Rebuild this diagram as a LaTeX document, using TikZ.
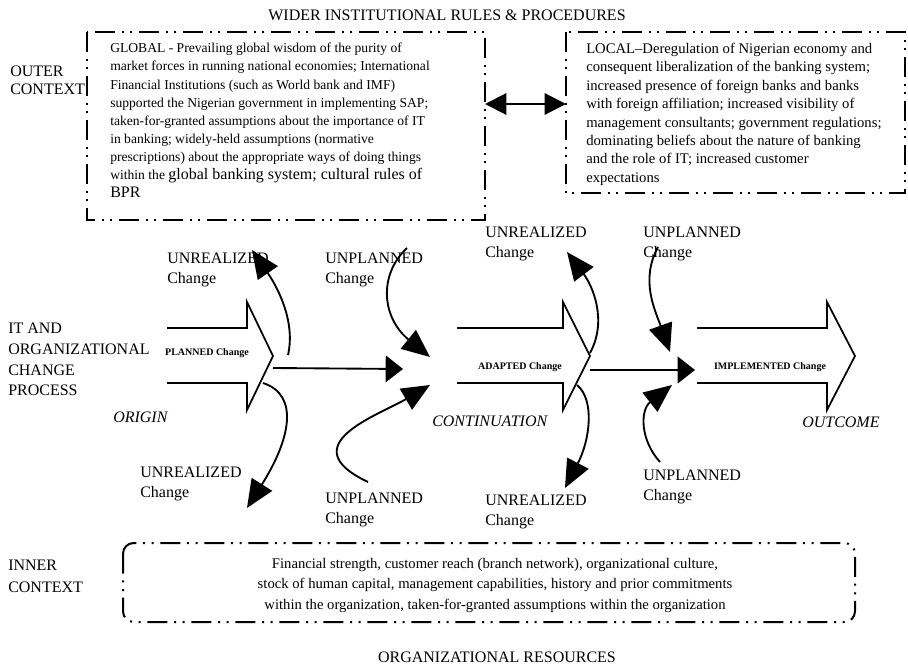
\documentclass[tikz,border=0pt]{standalone}
\usepackage{fontspec}
\setmainfont{Liberation Serif}
\usepackage{tikz}
\usetikzlibrary{arrows.meta}

\begin{document}
\begin{tikzpicture}[x=0.75pt,y=-0.75pt,
		ctxbox/.style={line width=1.5pt,dash pattern=on 15pt off 5pt on 1.5pt off 5pt on 1.5pt off 5pt},
		boxtext/.style={font=\fontsize{10.2}{13.6}\selectfont,align=left,anchor=north west,inner sep=0pt},
		lbl/.style={font=\fontsize{12}{15}\selectfont,align=left,anchor=north west,inner sep=0pt},
		stage/.style={font=\fontsize{12}{14}\selectfont\itshape,anchor=west,inner sep=0pt},
		flowlbl/.style={font=\fontsize{7.5}{8}\selectfont\bfseries,inner sep=0pt},
		blockarrow/.style={line width=1.3pt,line join=miter},
		change/.style={line width=1.4pt,-{Triangle[length=21pt,width=18pt]}},
		link/.style={line width=1.4pt,-{Triangle[length=13pt,width=20pt]}}]
	\useasboundingbox (0,0) rectangle (908,671);
	
	% outer context
	\node[lbl,anchor=north] (wider) at (447,10) {WIDER INSTITUTIONAL RULES \& PROCEDURES};
	\node[lbl,font=\fontsize{12}{13.5}\selectfont] (outer) at (10,66) {OUTER\\CONTEXT};
	
	\draw[ctxbox] (87,32) rectangle (485,220);
	\node[boxtext] (global) at (110,43) {GLOBAL - Prevailing global wisdom of the purity of\\
		market forces in running national economies; International\\
		Financial Institutions (such as World bank and IMF)\\
		supported the Nigerian government in implementing SAP;\\
		taken-for-granted assumptions about the importance of IT\\
		in banking; widely-held assumptions (normative\\
		prescriptions) about the appropriate ways of doing things\\
		within the {\fontsize{12}{13.6}\selectfont global banking system; cultural rules of}\\
		{\fontsize{12}{13.6}\selectfont BPR}};
	
	\draw[ctxbox] (566,32) rectangle (905,193);
	\node[boxtext,font=\fontsize{11}{13.8}\selectfont] (local) at (586,43) {LOCAL--Deregulation of Nigerian economy and\\
		consequent liberalization of the banking system;\\
		increased presence of foreign banks and banks\\
		with foreign affiliation; increased visibility of\\
		management consultants; government regulations;\\
		dominating beliefs about the nature of banking\\
		and the role of IT; increased customer\\
		expectations};
	
	\coordinate (gl) at (485,104);
	\coordinate (lc) at (566,104);
	\draw[line width=1.6pt,{Triangle[length=16pt,width=16pt]}-{Triangle[length=16pt,width=16pt]}] (gl)--(lc);
	
	% change process
	\node[lbl,font=\fontsize{12}{15.5}\selectfont] (itorg) at (8,323) {IT AND\\ORGANIZATIONAL\\CHANGE\\PROCESS};
	
	\foreach \a/\b/\t in {167/247/273, 457/563/590, 697/827/855}{
		\draw[blockarrow] (\a,328) -- (\b,328) -- (\b,302) -- (\t,356) -- (\b,410) -- (\b,383) -- (\a,383);
	}
	\node[flowlbl] (planned) at (207,353) {PLANNED Change};
	\node[flowlbl] (adapted) at (520,367) {ADAPTED Change};
	\node[flowlbl] (implemented) at (770,367) {IMPLEMENTED Change};
	
	\node[stage] (origin) at (113,417) {ORIGIN};
	\node[stage] (continuation) at (432,421) {CONTINUATION};
	\node[stage] (outcome) at (802,422) {OUTCOME};
	
	\coordinate (o-out) at (273,368);
	\coordinate (c-in) at (403,369);
	\coordinate (c-out) at (590,370);
	\coordinate (i-in) at (695,370);
	\draw[link] (o-out) -- (c-in);
	\draw[link] (c-out) -- (i-in);
	
	\foreach \n/\x/\y/\t in {ur1/167/253/UNREALIZED, up1/325/253/UNPLANNED, ur2/485/227/UNREALIZED, up2/643/227/UNPLANNED,
		ur3/140/467/UNREALIZED, up3/325/493/UNPLANNED, ur4/485/495/UNREALIZED, up4/643/470/UNPLANNED}{
		\node[lbl] (\n) at (\x,\y) {\t\\Change};
	}
	
	\coordinate (o-up) at (288,355);
	\coordinate (ur1-tip) at (252,250);
	\coordinate (up1-end) at (407,248);
	\coordinate (c-top) at (430,357);
	\coordinate (o-down) at (263,383);
	\coordinate (ur3-tip) at (247,508);
	\coordinate (up3-end) at (368,482);
	\coordinate (c-bot) at (430,385);
	\coordinate (c-up) at (590,353);
	\coordinate (ur2-tip) at (567,252);
	\coordinate (up2-end) at (658,247);
	\coordinate (i-top) at (670,352);
	\coordinate (c-down) at (577,385);
	\coordinate (ur4-tip) at (565,488);
	\coordinate (up4-end) at (660,462);
	\coordinate (i-bot) at (672,385);
	
	\draw[change] (o-up) .. controls (296,320) and (276,285) .. (ur1-tip);
	\draw[change] (up1-end) .. controls (378,275) and (382,318) .. (c-top);
	\draw[change] (o-down) .. controls (300,395) and (290,440) .. (ur3-tip);
	\draw[change] (up3-end) .. controls (290,445) and (379,415) .. (c-bot);
	\draw[change] (c-up) .. controls (608,320) and (592,285) .. (ur2-tip);
	\draw[change] (up2-end) .. controls (640,280) and (655,310) .. (i-top);
	\draw[change] (c-down) .. controls (595,400) and (590,440) .. (ur4-tip);
	\draw[change] (up4-end) .. controls (640,440) and (640,410) .. (i-bot);
	
	% inner context
	\node[lbl,font=\fontsize{12}{16}\selectfont] (inner) at (8,560) {INNER\\CONTEXT};
	\draw[ctxbox,rounded corners=8pt] (123,543) rectangle (855,622);
	\node[font=\fontsize{11}{15.4}\selectfont,align=center,inner sep=0pt,anchor=north] (resources) at (495,558) {Financial strength, customer reach (branch network), organizational culture,\\
		stock of human capital, management capabilities, history and prior commitments\\
		within the organization, taken-for-granted assumptions within the organization};
	\node[lbl,anchor=center] (orgres) at (497,657) {ORGANIZATIONAL RESOURCES};
\end{tikzpicture}
\end{document}
